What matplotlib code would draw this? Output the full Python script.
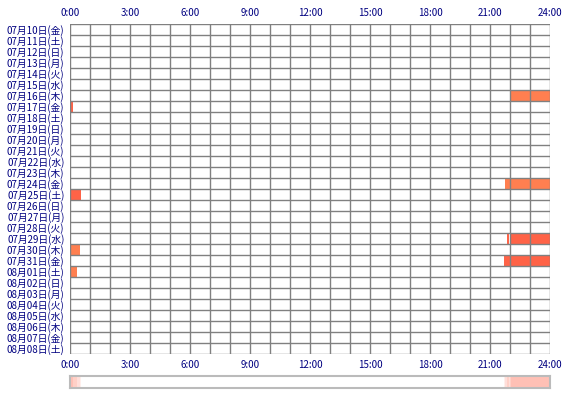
import matplotlib
matplotlib.use("Agg")
import matplotlib.pyplot as plt
import numpy as np

plt.rcParams['font.family'] = ['Noto Sans CJK JP', 'DejaVu Sans']

days = ["07月10日(金)", "07月11日(土)", "07月12日(日)", "07月13日(月)", "07月14日(火)",
        "07月15日(水)", "07月16日(木)", "07月17日(金)", "07月18日(土)", "07月19日(日)",
        "07月20日(月)", "07月21日(火)", "07月22日(水)", "07月23日(木)", "07月24日(金)",
        "07月25日(土)", "07月26日(日)", "07月27日(月)", "07月28日(火)", "07月29日(水)",
        "07月30日(木)", "07月31日(金)", "08月01日(土)", "08月02日(日)", "08月03日(月)",
        "08月04日(火)", "08月05日(水)", "08月06日(木)", "08月07日(金)", "08月08日(土)"]

# sessions: day label, start hour, end hour, colour
session_days = ["07月16日(木)", "07月17日(金)", "07月24日(金)", "07月25日(土)",
                "07月29日(水)", "07月29日(水)", "07月30日(木)", "07月31日(金)", "08月01日(土)"]
session_start = [22.0, 0.0, 21.75, 0.0, 21.87, 22.03, 0.0, 21.7, 0.0]
session_end = [24.0, 0.13, 24.0, 0.55, 21.93, 24.0, 0.5, 24.0, 0.35]
session_color = ["#FF7F50", "#FF6347", "#FF7F50", "#FF6347", "#FF6347", "#FF6347",
                 "#FF7F50", "#FF6347", "#FF7F50"]

hour_ticks = [0, 3, 6, 9, 12, 15, 18, 21, 24]
hour_labels = ["0:00", "3:00", "6:00", "9:00", "12:00", "15:00", "18:00", "21:00", "24:00"]

W, H = 570, 400
fig = plt.figure(figsize=(W / 100, H / 100), dpi=100)
L, R, T, B = 70, 550, 24, 354
ax = fig.add_axes([L / W, 1 - B / H, (R - L) / W, (B - T) / H])

navy = "#000080"
grid_c = "#808080"

ypos = {d: i for i, d in enumerate(days)}
for d, s, e, c in zip(session_days, session_start, session_end, session_color):
    ax.barh(ypos[d] + 0.5, e - s, left=s, height=1.0, color=c, edgecolor='none', zorder=1)

ax.set_xlim(0, 24)
ax.set_ylim(len(days), 0)
for h in range(25):
    ax.axvline(h, color=grid_c, lw=1.0, zorder=2)
for r in range(len(days) + 1):
    ax.axhline(r, color=grid_c, lw=1.0, zorder=2)
for sp in ax.spines.values():
    sp.set_visible(False)

ax.set_xticks(hour_ticks)
ax.set_xticklabels(hour_labels)
ax.tick_params(axis='x', which='both', length=0, labeltop=True, labelbottom=True,
               colors=navy, labelsize=7, pad=4)
ax.set_yticks(np.arange(len(days)) + 0.5)
ax.set_yticklabels(days)
ax.tick_params(axis='y', length=0, colors=navy, labelsize=7, pad=4)

# summary strip
ax2 = fig.add_axes([L / W, 1 - 388 / H, (R - L) / W, 12 / H])
minutes = np.arange(0, 24 * 60) / 60.0 + 1 / 120
count = np.zeros_like(minutes)
for s, e in zip(session_start, session_end):
    count += (minutes >= s) & (minutes < e)
frac = 0.4 * count / count.max()
tom = np.array([255, 99, 71]) / 255.0
img = (1 - frac[:, None]) * np.ones(3) + frac[:, None] * tom
ax2.imshow(img[None, :, :], aspect='auto', extent=[0, 24, 0, 1], interpolation='nearest')
ax2.set_xlim(0, 24)
ax2.set_ylim(0, 1)
ax2.set_xticks([])
ax2.set_yticks([])
for sp in ax2.spines.values():
    sp.set_color("#BBBBBB")
    sp.set_linewidth(1.5)

fig.savefig("out.png", dpi=100)
